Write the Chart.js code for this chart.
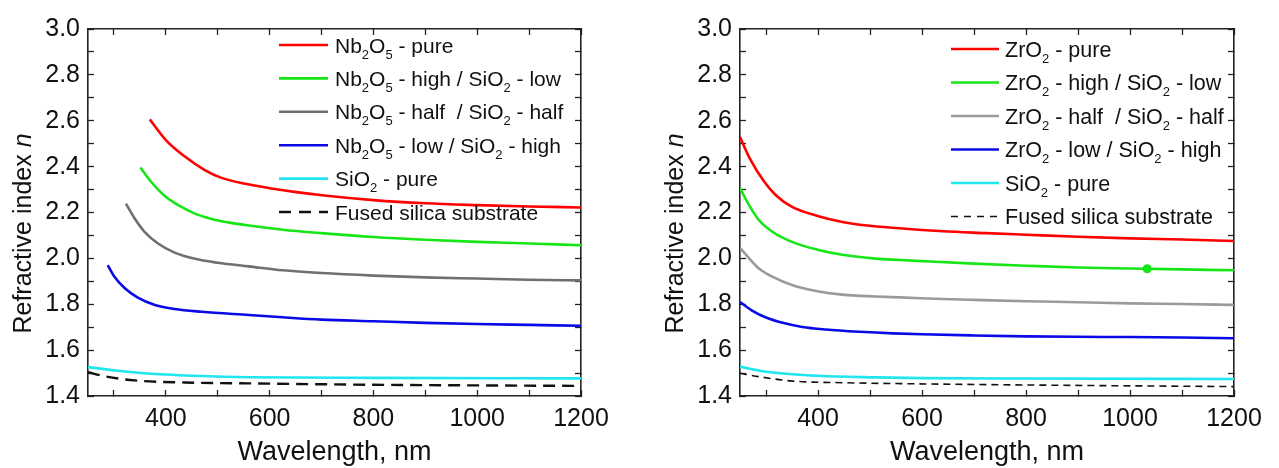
<!DOCTYPE html>
<html>
<head>
<meta charset="utf-8">
<title>Refractive index dispersion of Nb2O5/SiO2 and ZrO2/SiO2 films</title>
<script src="https://cdn.jsdelivr.net/npm/chart.js@4.4.1/dist/chart.umd.min.js"></script>
<style>
  html, body { margin: 0; padding: 0; background: #fff; overflow: hidden; }
  #wrap { position: relative; width: 1279px; height: 468px; }
  canvas { position: absolute; top: 0; }
  #nbChart { left: 0; }
  #zrChart { left: 640px; }
</style>
</head>
<body>
<div id="wrap">
  <canvas id="nbChart" width="640" height="468"></canvas>
  <canvas id="zrChart" width="639" height="468"></canvas>
</div>
<script>
// ---- tick labels -------------------------------------------------------
const xTickLabels = [400, 600, 800, 1000, 1200];
const yTickLabels = [1.4, 1.6, 1.8, 2.0, 2.2, 2.4, 2.6, 2.8, 3.0];

// ---- Nb2O5 / SiO2 films (wavelength in nm, refractive index n) ---------
const nbLabels = [
  'Nb₂O₅ - pure',
  'Nb₂O₅ - high / SiO₂ - low',
  'Nb₂O₅ - half  / SiO₂ - half',
  'Nb₂O₅ - low / SiO₂ - high',
  'SiO₂ - pure',
  'Fused silica substrate'
];
const nbPureWl = [369, 400, 436, 475, 506, 553, 600, 648, 710, 800, 900, 1000, 1100, 1200];
const nbPureN  = [2.606, 2.516, 2.445, 2.385, 2.352, 2.325, 2.306, 2.290, 2.273, 2.254, 2.240, 2.232, 2.226, 2.222];
const nbHighWl = [351, 372, 398, 424, 456, 488, 520, 560, 625, 700, 800, 900, 1000, 1100, 1200];
const nbHighN  = [2.396, 2.333, 2.272, 2.232, 2.195, 2.172, 2.157, 2.143, 2.125, 2.110, 2.093, 2.081, 2.072, 2.065, 2.057];
const nbHalfWl = [323, 340, 359, 385, 417, 456, 500, 560, 625, 700, 800, 900, 1000, 1100, 1200];
const nbHalfN  = [2.239, 2.174, 2.116, 2.065, 2.025, 1.998, 1.981, 1.965, 1.948, 1.936, 1.925, 1.917, 1.912, 1.907, 1.904];
const nbLowWl  = [288, 301, 321, 346, 379, 417, 469, 560, 625, 700, 800, 900, 1000, 1100, 1200];
const nbLowN   = [1.971, 1.920, 1.870, 1.829, 1.797, 1.779, 1.767, 1.753, 1.743, 1.733, 1.726, 1.719, 1.714, 1.710, 1.706];
const nbSiO2Wl = [250, 308, 372, 469, 560, 800, 1200];
const nbSiO2N  = [1.526, 1.510, 1.497, 1.487, 1.482, 1.479, 1.477];
const nbSubWl  = [250, 282, 340, 436, 560, 800, 1200];
const nbSubN   = [1.504, 1.486, 1.468, 1.459, 1.455, 1.449, 1.444];

// ---- ZrO2 / SiO2 films --------------------------------------------------
const zrLabels = [
  'ZrO₂ - pure',
  'ZrO₂ - high / SiO₂ - low',
  'ZrO₂ - half  / SiO₂ - half',
  'ZrO₂ - low / SiO₂ - high',
  'SiO₂ - pure',
  'Fused silica substrate'
];
const zrPureWl = [250, 269, 296, 319, 351, 399, 447, 499, 563, 640, 723, 800, 900, 1000, 1100, 1200];
const zrPureN  = [2.529, 2.435, 2.336, 2.275, 2.223, 2.185, 2.159, 2.142, 2.130, 2.118, 2.110, 2.103, 2.094, 2.087, 2.082, 2.076];
const zrHighWl = [250, 268, 287, 313, 351, 399, 447, 511, 558, 600, 700, 800, 900, 1000, 1100, 1200];
const zrHighN  = [2.307, 2.230, 2.165, 2.115, 2.071, 2.038, 2.016, 1.999, 1.993, 1.988, 1.977, 1.968, 1.960, 1.956, 1.952, 1.948];
const zrHalfWl = [250, 268, 287, 313, 351, 399, 447, 511, 558, 640, 700, 800, 900, 1000, 1100, 1200];
const zrHalfN  = [2.046, 1.999, 1.955, 1.919, 1.883, 1.857, 1.842, 1.834, 1.830, 1.823, 1.819, 1.813, 1.809, 1.804, 1.801, 1.797];
const zrLowWl  = [250, 274, 300, 332, 370, 415, 480, 544, 600, 700, 800, 900, 1000, 1100, 1200];
const zrLowN   = [1.810, 1.771, 1.742, 1.719, 1.701, 1.690, 1.680, 1.673, 1.669, 1.664, 1.660, 1.658, 1.657, 1.655, 1.652];
const zrSiO2Wl = [250, 300, 400, 511, 600, 800, 1200];
const zrSiO2N  = [1.528, 1.506, 1.488, 1.481, 1.478, 1.476, 1.474];
const zrSubWl  = [250, 287, 351, 447, 558, 800, 1200];
const zrSubN   = [1.499, 1.484, 1.465, 1.458, 1.454, 1.448, 1.441];
// highlighted measurement on the ZrO2-high curve
const zrMarkWl = [1033];
const zrMarkN  = [1.955];

// ---- drawing helpers ----------------------------------------------------
const FONT = "'Liberation Sans', Arial, Helvetica, sans-serif";
const SUB_DIGITS = '₀₁₂₃₄₅₆₇₈₉';
const pts = (wl, n) => wl.map((w, i) => ({ x: w, y: n[i] }));

// split a label into normal runs and subscript-digit runs
function runsOf(text) {
  const runs = [];
  for (const ch of text) {
    const k = SUB_DIGITS.indexOf(ch);
    const sub = k >= 0;
    const c = sub ? String(k) : ch;
    if (runs.length && runs[runs.length - 1].sub === sub) runs[runs.length - 1].t += c;
    else runs.push({ t: c, sub });
  }
  return runs;
}

function drawRichText(ctx, text, x, baseY, size) {
  let cx = x;
  for (const r of runsOf(text)) {
    if (r.sub) {
      ctx.font = Math.round(size * 0.62) + 'px ' + FONT;
      ctx.fillText(r.t, cx, baseY + size * 0.29);
    } else {
      ctx.font = size + 'px ' + FONT;
      ctx.fillText(r.t, cx, baseY);
    }
    cx += ctx.measureText(r.t).width;
  }
}

// legend drawn inside the plot with chemical subscripts
const richLegend = {
  id: 'richLegend',
  afterDatasetsDraw(chart, args, opts) {
    const ctx = chart.ctx;
    ctx.save();
    ctx.textBaseline = 'alphabetic';
    ctx.textAlign = 'left';
    let row = 0;
    chart.data.datasets.forEach(ds => {
      if (!ds.label) return;
      const y = opts.top + row * opts.rowGap;
      ctx.beginPath();
      ctx.strokeStyle = ds.borderColor;
      ctx.lineWidth = ds.legendWidth || ds.borderWidth;
      ctx.setLineDash(ds.legendDash || []);
      ctx.moveTo(opts.left, y);
      ctx.lineTo(opts.left + opts.sample, y);
      ctx.stroke();
      ctx.setLineDash([]);
      ctx.fillStyle = '#111';
      drawRichText(ctx, ds.label, opts.left + opts.sample + opts.gap, y + opts.fontSize * 0.36, opts.fontSize);
      row++;
    });
    ctx.restore();
  }
};

// axis captions (the y caption carries an italic symbol)
const axisCaptions = {
  id: 'axisCaptions',
  afterDraw(chart, args, opts) {
    const ctx = chart.ctx;
    const a = chart.chartArea;
    ctx.save();
    ctx.fillStyle = '#111';
    ctx.textBaseline = 'middle';
    ctx.textAlign = 'center';
    ctx.font = opts.xSize + 'px ' + FONT;
    ctx.fillText(opts.xText, (a.left + a.right) / 2, a.bottom + opts.xOffset);

    ctx.translate(a.left - opts.yOffset, (a.top + a.bottom) / 2 + opts.yShift);
    ctx.rotate(-Math.PI / 2);
    ctx.textAlign = 'left';
    ctx.font = opts.ySize + 'px ' + FONT;
    const w1 = ctx.measureText(opts.yText).width;
    ctx.font = 'italic ' + opts.ySize + 'px ' + FONT;
    const w2 = ctx.measureText(opts.yItalic).width;
    const x0 = -(w1 + w2) / 2;
    ctx.font = opts.ySize + 'px ' + FONT;
    ctx.fillText(opts.yText, x0, 0);
    ctx.font = 'italic ' + opts.ySize + 'px ' + FONT;
    ctx.fillText(opts.yItalic, x0 + w1, 0);
    ctx.restore();
  }
};

function lineSet(label, wl, n, color, extra) {
  return Object.assign({
    label, data: pts(wl, n), borderColor: color, backgroundColor: color,
    borderWidth: 2.6, pointRadius: 0, pointHoverRadius: 0,
    cubicInterpolationMode: 'monotone', fill: false
  }, extra || {});
}

function scales(yWidth) {
  const tickGrid = { drawOnChartArea: false, drawTicks: true, tickLength: -6, tickColor: '#222', tickWidth: 1.3 };
  const border = { display: true, color: '#222', width: 1.6 };
  return {
    x: {
      type: 'linear', position: 'bottom', min: 250, max: 1200,
      grid: tickGrid, border,
      ticks: {
        stepSize: 100, includeBounds: false, autoSkip: false, maxRotation: 0,
        padding: 14, color: '#111', font: { family: FONT, size: 25 },
        callback: v => xTickLabels.includes(v) ? String(v) : ''
      },
      afterFit: s => { s.height = 72; }
    },
    x2: {
      type: 'linear', position: 'top', min: 250, max: 1200,
      grid: tickGrid, border,
      ticks: { stepSize: 100, includeBounds: false, autoSkip: false, display: false },
      afterFit: s => { s.height = 0; }
    },
    y: {
      type: 'linear', position: 'left', min: 1.4, max: 3.0,
      grid: tickGrid, border,
      ticks: {
        stepSize: 0.1, autoSkip: false, padding: 14, color: '#111',
        font: { family: FONT, size: 25 },
        callback: v => {
          const t = Math.round(v * 10) / 10;
          return yTickLabels.some(q => Math.abs(q - t) < 1e-6) ? t.toFixed(1) : '';
        }
      },
      afterFit: s => { s.width = yWidth; }
    },
    y2: {
      type: 'linear', position: 'right', min: 1.4, max: 3.0,
      grid: tickGrid, border,
      ticks: { stepSize: 0.1, autoSkip: false, display: false },
      afterFit: s => { s.width = 0; }
    }
  };
}

function commonOptions(cfg) {
  return {
    responsive: false, animation: false, devicePixelRatio: 1,
    layout: { padding: { left: 0, top: cfg.top, right: cfg.right, bottom: 0 } },
    scales: scales(cfg.yWidth),
    plugins: {
      legend: { display: false }, tooltip: { enabled: false },
      richLegend: cfg.legend,
      axisCaptions: {
        xText: 'Wavelength, nm', xSize: 27, xOffset: 57,
        yText: 'Refractive index ', yItalic: 'n', ySize: 25, yOffset: 64, yShift: 21
      }
    }
  };
}

// ---- left panel: Nb2O5 ---------------------------------------------------
new Chart(document.getElementById('nbChart'), {
  type: 'line',
  data: {
    datasets: [
      lineSet(nbLabels[0], nbPureWl, nbPureN, '#ff0000'),
      lineSet(nbLabels[1], nbHighWl, nbHighN, '#16e616'),
      lineSet(nbLabels[2], nbHalfWl, nbHalfN, '#707070'),
      lineSet(nbLabels[3], nbLowWl, nbLowN, '#0a0ae6'),
      lineSet(nbLabels[4], nbSiO2Wl, nbSiO2N, '#20e6f0'),
      lineSet(nbLabels[5], nbSubWl, nbSubN, '#111111', { borderWidth: 2.4, borderDash: [12, 7], legendDash: [12, 8] })
    ]
  },
  options: commonOptions({
    top: 27, right: 59, yWidth: 88,
    legend: { left: 279, top: 45, rowGap: 33.4, sample: 49, gap: 7, fontSize: 21 }
  }),
  plugins: [richLegend, axisCaptions]
});

// ---- right panel: ZrO2 ---------------------------------------------------
new Chart(document.getElementById('zrChart'), {
  type: 'line',
  data: {
    datasets: [
      lineSet(zrLabels[0], zrPureWl, zrPureN, '#ff0000'),
      lineSet(zrLabels[1], zrHighWl, zrHighN, '#16e616'),
      lineSet(zrLabels[2], zrHalfWl, zrHalfN, '#9a9a9a'),
      lineSet(zrLabels[3], zrLowWl, zrLowN, '#0a0ae6'),
      lineSet(zrLabels[4], zrSiO2Wl, zrSiO2N, '#20e6f0'),
      lineSet(zrLabels[5], zrSubWl, zrSubN, '#111111', { borderWidth: 1.6, borderDash: [7, 5], legendDash: [7, 6] }),
      {
        data: pts(zrMarkWl, zrMarkN), showLine: false,
        pointRadius: 4.5, pointHoverRadius: 4.5, pointBorderWidth: 0,
        backgroundColor: '#16e616', borderColor: '#16e616'
      }
    ]
  },
  options: commonOptions({
    top: 27, right: 45, yWidth: 100,
    legend: { left: 311, top: 49, rowGap: 33.5, sample: 48, gap: 6, fontSize: 21.5 }
  }),
  plugins: [richLegend, axisCaptions]
});
</script>
</body>
</html>
